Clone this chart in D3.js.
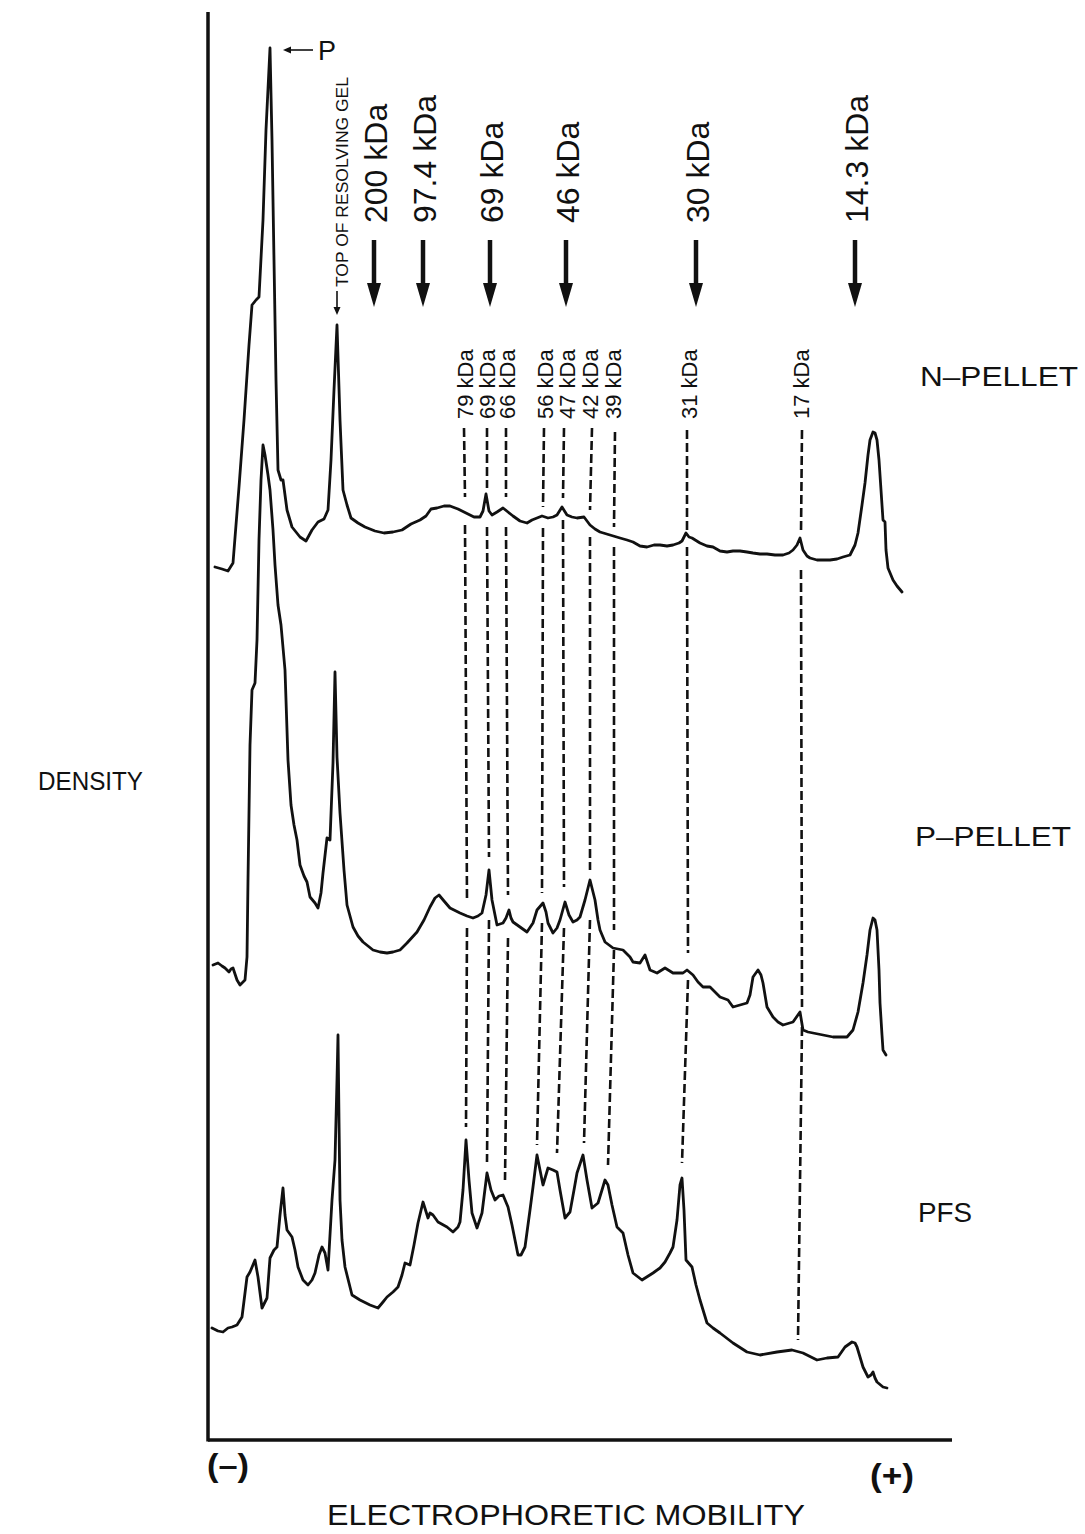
<!DOCTYPE html>
<html>
<head>
<meta charset="utf-8">
<script src="https://cdn.jsdelivr.net/npm/d3@7"></script>
<style>
  html, body { margin: 0; padding: 0; background: #fff; }
  svg { display: block; }
  text { font-family: "Liberation Sans", Arial, Helvetica, sans-serif; fill: #111; }
</style>
</head>
<body>
<svg id="chart" width="1085" height="1534"></svg>
<script>
// Densitometer scans: [mobility (scan units), density (arbitrary, stacked)]
const traceNPellet = [
  [0.7,87.3],[1.4,87.1],[2.0,86.9],[2.5,87.7],[3.1,95.3],[3.6,102.0],[4.1,109.5],[4.4,113.5],
  [4.8,114.0],[5.1,114.3],[5.5,122.0],[5.8,131.0],[6.2,139.2],[6.4,130.0],[6.6,118.0],[6.8,106.0],
  [7.0,97.0],[7.3,96.0],[7.5,96.0],[7.9,93.0],[8.4,91.3],[9.2,90.3],[9.8,89.9],[10.4,91.0],
  [11.0,91.8],[11.6,92.1],[12.0,93.0],[12.3,98.0],[12.6,105.0],[12.9,111.5],[13.2,102.0],[13.5,95.0],
  [13.9,93.5],[14.3,92.2],[15.0,91.7],[15.7,91.3],[16.7,90.9],[17.6,90.7],[18.5,90.8],[19.4,91.0],
  [20.3,91.6],[21.2,92.0],[21.8,92.4],[22.3,93.1],[22.9,93.2],[23.6,93.4],[24.2,93.4],[25.0,93.1],
  [25.8,92.7],[26.6,92.3],[27.2,92.3],[27.5,92.9],[27.8,94.6],[28.1,92.9],[28.4,92.5],[28.9,92.8],
  [29.5,93.2],[30.0,92.8],[30.5,92.4],[31.2,91.9],[31.9,91.7],[32.4,92.0],[32.9,92.2],[33.4,92.4],
  [34.0,92.2],[34.5,92.3],[34.9,92.5],[35.4,93.3],[35.9,92.5],[36.4,92.3],[36.9,92.2],[37.6,92.3],
  [38.2,91.5],[38.7,91.1],[39.2,90.8],[40.2,90.5],[41.2,90.2],[41.9,90.0],[42.5,89.8],[43.2,89.4],
  [43.9,89.3],[44.6,89.5],[45.2,89.5],[45.9,89.4],[46.5,89.5],[47.1,89.7],[47.4,89.9],[47.8,90.7],
  [48.1,90.3],[48.4,90.2],[49.2,89.7],[49.9,89.4],[50.5,89.3],[51.2,88.9],[51.9,88.8],[52.5,88.9],
  [53.2,88.9],[53.9,88.8],[54.5,88.7],[55.2,88.6],[55.9,88.6],[56.7,88.5],[57.5,88.5],[58.1,88.7],
  [58.5,89.0],[58.9,89.5],[59.2,90.2],[59.5,89.0],[59.9,88.4],[60.2,88.2],[60.9,88.0],[61.5,88.0],
  [62.2,88.0],[62.9,88.1],[63.5,88.3],[64.2,88.5],[64.7,89.5],[65.0,90.7],[65.4,93.5],[65.7,95.7],
  [66.0,98.5],[66.2,100.0],[66.5,100.8],[66.7,100.7],[66.9,100.0],[67.1,98.0],[67.3,95.0],[67.5,92.0],
  [67.7,91.8],[67.8,89.0],[68.0,87.2],[68.5,86.0],[68.9,85.4],[69.4,84.8]
];

const tracePPellet = [
  [0.5,47.5],[1.0,47.7],[1.4,47.4],[1.7,47.2],[2.1,46.8],[2.3,47.1],[2.5,47.2],[2.9,46.0],
  [3.2,45.5],[3.7,46.0],[3.9,48.3],[4.0,56.0],[4.2,69.5],[4.4,75.0],[4.7,75.7],[4.9,80.0],
  [5.1,90.0],[5.3,96.0],[5.5,99.5],[5.7,98.5],[6.0,96.5],[6.2,95.0],[6.5,91.0],[6.7,87.5],
  [7.0,83.5],[7.3,81.5],[7.7,77.0],[8.0,68.0],[8.3,63.5],[8.6,61.5],[8.9,60.0],[9.2,57.5],
  [9.6,56.4],[9.9,55.8],[10.2,54.3],[10.7,53.7],[11.0,53.2],[11.3,54.7],[11.5,56.7],[11.9,60.2],
  [12.2,60.0],[12.5,67.7],[12.7,76.8],[12.9,68.3],[13.2,62.7],[13.6,57.0],[13.9,53.5],[14.5,51.3],
  [15.0,50.4],[15.5,49.8],[16.5,49.0],[17.2,48.8],[17.9,48.7],[18.5,48.8],[19.2,49.0],[19.9,49.7],
  [20.9,50.8],[21.6,52.0],[22.2,53.3],[22.7,54.2],[23.1,54.5],[23.6,53.9],[24.2,53.2],[25.2,52.7],
  [25.9,52.4],[26.5,52.2],[27.0,52.4],[27.4,52.7],[27.8,54.5],[28.1,57.0],[28.4,54.0],[28.9,51.5],
  [29.5,51.7],[29.8,52.2],[30.1,53.0],[30.3,52.2],[30.5,51.8],[31.2,51.3],[31.9,50.8],[32.5,51.7],
  [32.9,53.0],[33.5,53.7],[33.8,52.8],[34.0,51.7],[34.5,50.7],[34.9,51.2],[35.2,52.0],[35.7,53.8],
  [36.1,52.5],[36.5,51.8],[36.9,52.0],[37.2,52.3],[37.7,54.0],[38.2,56.0],[38.4,55.2],[38.7,54.0],
  [39.0,52.0],[39.2,51.0],[39.7,49.8],[40.5,49.2],[41.5,49.0],[42.2,48.3],[42.5,47.8],[43.2,47.7],
  [43.7,48.5],[44.2,47.0],[44.9,46.7],[45.7,47.2],[46.5,46.7],[47.5,46.7],[47.9,47.0],[48.5,46.5],
  [49.0,45.8],[49.5,45.3],[50.2,45.3],[50.7,44.8],[51.2,44.3],[52.0,44.0],[52.5,43.3],[53.2,43.5],
  [53.9,43.7],[54.2,44.5],[54.5,46.3],[55.0,47.0],[55.3,46.5],[55.5,45.7],[55.9,43.3],[56.5,42.3],
  [57.0,41.8],[57.5,41.5],[58.5,41.8],[59.2,42.8],[59.5,41.0],[60.0,40.8],[60.5,40.7],[61.5,40.5],
  [62.5,40.3],[63.9,40.3],[64.5,41.0],[65.0,42.8],[65.5,45.7],[65.9,48.5],[66.2,51.0],[66.5,52.2],
  [66.7,52.0],[66.9,51.0],[67.1,47.0],[67.2,43.7],[67.4,40.5],[67.5,39.0],[67.8,38.5]
];

const tracePFS = [
  [0.4,11.2],[1.0,10.9],[1.5,10.8],[2.0,11.2],[2.4,11.3],[2.9,11.5],[3.4,12.3],[3.9,16.3],
  [4.2,16.8],[4.7,18.0],[5.0,16.3],[5.4,13.2],[5.9,14.2],[6.2,18.2],[6.6,19.0],[6.9,19.3],
  [7.2,22.5],[7.5,25.2],[7.7,22.5],[7.9,21.0],[8.4,20.3],[8.7,19.0],[9.0,17.3],[9.5,16.0],
  [10.0,15.5],[10.4,16.0],[10.7,16.7],[11.1,18.5],[11.4,19.3],[11.7,18.7],[12.0,17.0],[12.2,20.5],
  [12.4,24.0],[12.7,28.0],[12.9,36.0],[13.0,40.5],[13.1,32.0],[13.2,24.0],[13.4,20.0],[13.7,17.3],
  [14.4,14.5],[15.2,14.0],[16.2,13.5],[17.0,13.2],[17.5,13.8],[17.9,14.3],[18.5,14.8],[19.0,15.3],
  [19.4,16.5],[19.7,17.7],[20.2,17.5],[20.6,19.5],[21.0,21.7],[21.5,23.8],[22.0,22.2],[22.2,22.7],
  [22.5,22.5],[23.0,21.8],[23.9,21.3],[24.5,20.8],[25.0,21.3],[25.2,21.8],[25.5,25.0],[25.8,30.0],
  [26.1,26.0],[26.4,22.7],[26.9,21.2],[27.4,22.7],[27.9,26.7],[28.3,25.0],[28.7,24.0],[29.1,24.4],
  [29.5,24.5],[30.0,23.3],[30.4,21.5],[31.0,18.5],[31.3,18.5],[31.7,19.3],[32.2,23.0],[32.5,25.3],
  [32.9,28.5],[33.2,27.0],[33.5,25.5],[34.0,27.2],[34.5,27.0],[34.9,26.8],[35.2,25.0],[35.7,22.2],
  [36.2,22.8],[36.6,25.0],[36.9,26.7],[37.5,28.5],[37.9,26.0],[38.4,23.2],[39.0,23.7],[39.4,25.0],
  [39.7,26.0],[40.0,25.5],[40.4,23.5],[40.9,21.3],[41.5,20.7],[42.0,18.5],[42.5,16.7],[43.4,16.0],
  [44.5,16.7],[45.2,17.2],[45.7,17.8],[46.2,18.7],[46.5,19.3],[46.9,22.0],[47.2,25.5],[47.4,26.2],
  [47.6,23.0],[47.8,18.0],[48.4,17.3],[48.8,15.5],[49.2,14.0],[49.9,11.7],[50.5,11.2],[51.2,10.7],
  [52.5,9.7],[53.9,8.8],[55.2,8.5],[56.9,8.8],[58.4,9.0],[59.5,8.7],[60.9,8.0],[61.9,8.2],
  [63.0,8.3],[63.7,9.3],[64.4,9.8],[64.7,9.7],[64.9,9.3],[65.2,8.3],[65.5,7.3],[66.0,6.3],
  [66.3,6.5],[66.5,6.8],[66.7,6.2],[66.9,5.8],[67.5,5.3],[67.9,5.2]
];

const traceNames = ["N\u2013PELLET", "P\u2013PELLET", "PFS"];
const traceNameDensity = [105.4, 59.4, 21.8];

// Molecular weight standards (arrows along the top)
const standardLabels = ["200 kDa", "97.4 kDa", "69 kDa", "46 kDa", "30 kDa", "14.3 kDa"];
const standardMobility = [16.6, 21.5, 28.2, 35.8, 48.8, 64.7];

// Assigned bands joined across the three scans by dashed lines
const bandLabels   = ["79 kDa", "69 kDa", "66 kDa", "56 kDa", "47 kDa", "42 kDa", "39 kDa", "31 kDa", "17 kDa"];
const bandLabelPos = [25.7, 27.9, 29.9, 33.7, 35.9, 38.2, 40.5, 48.1, 59.3];
const bandTopX     = [25.6, 27.9, 29.8, 33.6, 35.6, 38.4, 40.7, 47.9, 59.4];
const bandNX       = [25.7, 27.9, 29.8, 33.5, 35.5, 38.2, 40.6, 47.9, 59.3];
const bandPX       = [25.9, 28.1, 30.0, 33.4, 35.6, 38.2, 40.6, 48.0, 59.4];
const bandPfsX     = [25.8, 27.9, 29.7, 32.9, 34.9, 37.6, 40.0, 47.4, 59.0];
const bandTop      = [101.2, 101.2, 101.2, 101.2, 101.2, 101.2, 100.8, 101.0, 101.0];
const bandNAbove   = [94.3, 95.2, 94.3, 93.3, 94.2, 93.0, 91.3, 90.7, 90.7];
const bandNBelow   = [91.5, 91.3, 91.3, 91.2, 92.0, 90.3, 89.3, 89.3, 87.0];
const bandPAbove   = [53.8, 58.3, 54.5, 54.7, 55.3, 57.0, 51.0, 48.7, 43.3];
const bandPBelow   = [51.2, 52.0, 50.2, 51.7, 51.2, 52.0, 49.0, 46.0, 41.3];
const bandEnd      = [31.3, 27.8, 26.0, 29.5, 28.7, 29.7, 27.5, 27.7, 10.0];

const peakP = [6.2, 139.2];        // main peak marked "P"
const resolvingGel = [12.9, 111.5]; // top of resolving gel

const svg = d3.select("#chart");
svg.append("rect").attr("width", 1085).attr("height", 1534).attr("fill", "#fff");

const x = d3.scaleLinear().domain([0, 74.4]).range([208, 952]);
const y = d3.scaleLinear().domain([0, 142.8]).range([1440, 12]);

// Axes (plain frame lines, no ticks)
const axisG = svg.append("g").attr("stroke", "#111").attr("stroke-width", 3.5).attr("fill", "none");
axisG.append("line").attr("x1", x(0)).attr("x2", x(0)).attr("y1", y(142.8)).attr("y2", y(0) + 1.5);
axisG.append("line").attr("x1", x(0)).attr("x2", x(74.4)).attr("y1", y(0)).attr("y2", y(0));

// Traces
const line = d3.line().x(d => x(d[0])).y(d => y(d[1])).curve(d3.curveLinear);
[traceNPellet, tracePPellet, tracePFS].forEach(tr => {
  svg.append("path").datum(tr).attr("d", line)
    .attr("fill", "none").attr("stroke", "#111").attr("stroke-width", 2.8)
    .attr("stroke-linejoin", "round").attr("stroke-linecap", "round");
});

// Dashed band connectors, interrupted where they cross the upper scans
const dashG = svg.append("g").attr("stroke", "#111").attr("stroke-width", 2.6)
  .attr("stroke-dasharray", "9,4").attr("fill", "none");
bandLabels.forEach((lab, i) => {
  const segs = [
    [[bandTopX[i], bandTop[i]], [bandNX[i], bandNAbove[i]]],
    [[bandNX[i], bandNBelow[i]], [bandPX[i], bandPAbove[i]]],
    [[bandPX[i], bandPBelow[i]], [bandPfsX[i], bandEnd[i]]]
  ];
  segs.forEach(s => {
    dashG.append("line")
      .attr("x1", x(s[0][0])).attr("y1", y(s[0][1]))
      .attr("x2", x(s[1][0])).attr("y2", y(s[1][1]));
  });
});

// Band labels (vertical)
bandLabels.forEach((lab, i) => {
  svg.append("text")
    .attr("transform", `translate(${x(bandLabelPos[i])},${y(102.1)}) rotate(-90)`)
    .attr("dy", "0.36em")
    .attr("font-size", 22)
    .text(lab);
});

// Standards: vertical labels and heavy downward arrows
standardLabels.forEach((lab, i) => {
  const cx = x(standardMobility[i]);
  svg.append("text")
    .attr("transform", `translate(${cx + 1},${y(121.7)}) rotate(-90)`)
    .attr("dy", "0.36em")
    .attr("font-size", 32)
    .text(lab);
  const yTop = y(120.0), yTip = y(113.3);
  svg.append("line").attr("x1", cx).attr("x2", cx).attr("y1", yTop).attr("y2", yTip - 10)
    .attr("stroke", "#111").attr("stroke-width", 4.5);
  svg.append("path")
    .attr("d", `M${cx - 7},${yTip - 24} L${cx + 7},${yTip - 24} L${cx},${yTip} Z`)
    .attr("fill", "#111");
});

// "TOP OF RESOLVING GEL" marker
{
  const gx = x(resolvingGel[0]);
  const tipY = y(resolvingGel[1]) - 10;
  svg.append("line").attr("x1", gx).attr("x2", gx).attr("y1", tipY - 24).attr("y2", tipY - 4)
    .attr("stroke", "#111").attr("stroke-width", 1.6);
  svg.append("path").attr("d", `M${gx - 3.5},${tipY - 8} L${gx + 3.5},${tipY - 8} L${gx},${tipY} Z`).attr("fill", "#111");
  svg.append("text")
    .attr("transform", `translate(${gx + 5},${tipY - 28}) rotate(-90)`)
    .attr("dy", "0.36em")
    .attr("font-size", 17)
    .attr("textLength", 210).attr("lengthAdjust", "spacingAndGlyphs")
    .text("TOP OF RESOLVING GEL");
}

// "P" peak marker
{
  const px = x(peakP[0]) + 13, py = y(peakP[1]) + 2;
  svg.append("line").attr("x1", px + 4).attr("x2", px + 30).attr("y1", py).attr("y2", py)
    .attr("stroke", "#111").attr("stroke-width", 1.6);
  svg.append("path").attr("d", `M${px},${py} L${px + 8},${py - 3.5} L${px + 8},${py + 3.5} Z`).attr("fill", "#111");
  svg.append("text").attr("x", px + 35).attr("y", py + 10).attr("font-size", 27).text("P");
}

// Scan names on the right
const nameX = [920, 915, 918];
const nameLen = [158, 156, 54];
traceNames.forEach((n, i) => {
  svg.append("text").attr("x", nameX[i]).attr("y", y(traceNameDensity[i]))
    .attr("font-size", 27)
    .attr("textLength", nameLen[i]).attr("lengthAdjust", "spacingAndGlyphs")
    .text(n);
});

// Axis titles
svg.append("text").attr("x", 38).attr("y", 790).attr("font-size", 25)
  .attr("textLength", 105).attr("lengthAdjust", "spacingAndGlyphs").text("DENSITY");
svg.append("text").attr("x", 566).attr("y", 1525).attr("text-anchor", "middle")
  .attr("font-size", 30).attr("textLength", 478).attr("lengthAdjust", "spacingAndGlyphs")
  .text("ELECTROPHORETIC MOBILITY");
svg.append("text").attr("x", 207).attr("y", 1476).attr("font-size", 31).attr("font-weight", "bold")
  .attr("textLength", 42).attr("lengthAdjust", "spacingAndGlyphs").text("(\u2013)");
svg.append("text").attr("x", 870).attr("y", 1486).attr("font-size", 31).attr("font-weight", "bold")
  .attr("textLength", 44).attr("lengthAdjust", "spacingAndGlyphs").text("(+)");
</script>
</body>
</html>
